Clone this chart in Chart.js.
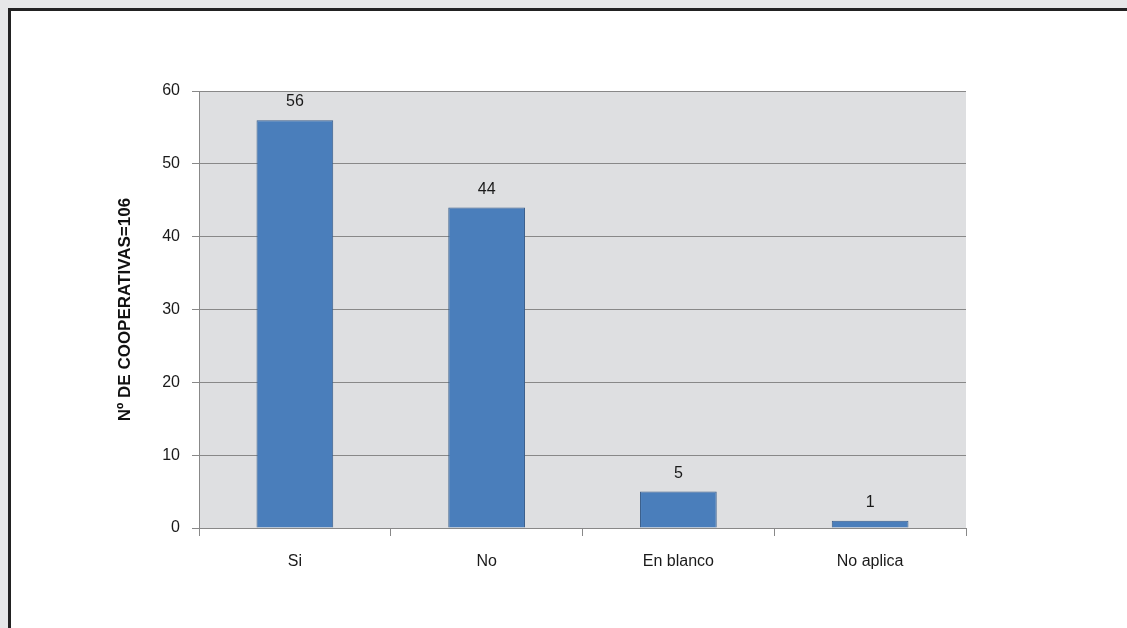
<!DOCTYPE html>
<html>
<head>
<meta charset="utf-8">
<script src="https://cdn.jsdelivr.net/npm/chart.js@4/dist/chart.umd.min.js"></script>
<style>
  html, body { margin: 0; padding: 0; background: #e6e7e8; }
  #wrap { width: 1127px; height: 628px; position: relative; }
</style>
</head>
<body>
<div id="wrap"><canvas id="chart"></canvas></div>
<script>
// data
const categories = ['Si', 'No', 'En blanco', 'No aplica'];
const cooperativas = [56, 44, 5, 1];
const yTicks = [0, 10, 20, 30, 40, 50, 60];
const yTitle = 'Nº DE COOPERATIVAS=106';

const sans = "'Liberation Sans', Arial, sans-serif";

// page frame + grey plot background
const framePlugin = {
    id: 'frame',
    beforeDraw(chart) {
        const ctx = chart.ctx;
        const a = chart.chartArea;
        ctx.save();
        ctx.fillStyle = '#e6e7e8';
        ctx.fillRect(0, 0, chart.width, chart.height);
        ctx.fillStyle = '#222';
        ctx.fillRect(8, 8, chart.width, chart.height);
        ctx.fillStyle = '#fff';
        ctx.fillRect(11, 11, chart.width, chart.height);
        ctx.fillStyle = '#dedfe1';
        ctx.fillRect(a.left, a.top, a.right - a.left, a.bottom - a.top);
        ctx.restore();
    }
};

// value labels above the bars
const valueLabels = {
    id: 'valueLabels',
    afterDatasetsDraw(chart) {
        const ctx = chart.ctx;
        const meta = chart.getDatasetMeta(0);
        ctx.save();
        ctx.font = '16px ' + sans;
        ctx.fillStyle = '#1a1a1a';
        ctx.textAlign = 'center';
        ctx.textBaseline = 'alphabetic';
        meta.data.forEach((bar, i) => {
            ctx.fillText(String(cooperativas[i]), bar.x, bar.y - 14);
        });
        ctx.restore();
    }
};

new Chart(document.getElementById('chart'), {
    type: 'bar',
    data: {
        labels: categories,
        datasets: [{
            data: cooperativas,
            backgroundColor: '#4a7ebb',
            borderColor: '#385d8a',
            borderWidth: 1,
            barPercentage: 0.8,
            categoryPercentage: 0.5
        }]
    },
    options: {
        responsive: true,
        maintainAspectRatio: false,
        animation: false,
        layout: { padding: { left: 105, top: 91, right: 161, bottom: 0 } },
        plugins: {
            legend: { display: false },
            tooltip: { enabled: false }
        },
        scales: {
            x: {
                offset: true,
                grid: { offset: true, drawOnChartArea: false, drawTicks: true, tickLength: 8, color: '#888' },
                border: { color: '#888' },
                ticks: { color: '#1a1a1a', font: { family: sans, size: 16 }, padding: 16 },
                afterFit(scale) { scale.height = 100; }
            },
            y: {
                min: 0,
                max: 60,
                afterBuildTicks(scale) { scale.ticks = yTicks.map(v => ({ value: v })); },
                grid: { color: '#888', tickLength: 7 },
                border: { color: '#888' },
                ticks: { color: '#1a1a1a', font: { family: sans, size: 16 }, padding: 12 },
                title: {
                    display: true,
                    text: yTitle,
                    color: '#111',
                    font: { family: sans, size: 17, weight: 'bold' },
                    padding: { top: 10, bottom: 0 }
                },
                afterFit(scale) { scale.width = 94; }
            }
        }
    },
    plugins: [framePlugin, valueLabels]
});
</script>
</body>
</html>
